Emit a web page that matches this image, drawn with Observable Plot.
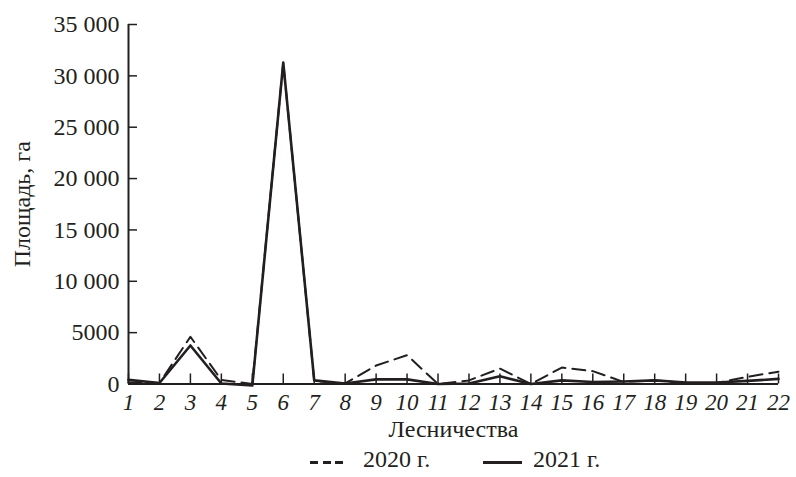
<!DOCTYPE html>
<html>
<head>
<meta charset="utf-8">
<script src="https://cdn.jsdelivr.net/npm/d3@7"></script>
<script src="https://cdn.jsdelivr.net/npm/@observablehq/plot@0.6"></script>
<style>
  html, body { margin: 0; padding: 0; background: #fff; }
  #wrap { width: 796px; font-family: "Liberation Serif", "Times New Roman", serif; color: #231f20; }
  #legend { position: relative; width: 796px; height: 29px; font-size: 24px; line-height: 24px; }
  #legend span { position: absolute; white-space: nowrap; }
</style>
</head>
<body>
<div id="wrap"><div id="chart"></div>
<div id="legend">
  <span id="dash1"></span><span id="t1"></span>
  <span id="solid2"></span><span id="t2"></span>
</div>
</div>
<script>
// ---- data ----
const forestries = [1,2,3,4,5,6,7,8,9,10,11,12,13,14,15,16,17,18,19,20,21,22];
const area2020 = [150, 100, 4600, 400, 0, 31300, 300, 50, 1800, 2800, 0, 350, 1500, 0, 1600, 1250, 200, 350, 100, 100, 700, 1200];
const area2021 = [400, 100, 3750, 50, -150, 31300, 350, 50, 450, 450, 0, 50, 750, 0, 350, 200, 250, 350, 150, 150, 300, 500];
const yTicks = [0, 5000, 10000, 15000, 20000, 25000, 30000, 35000];
const seriesNames = ["2020 г.", "2021 г."];
const xLabel = "Лесничества";
const yLabel = "Площадь, га";

const ink = "#231f20";
const W = 796, H = 448;
const mL = 128, mR = 18, mT = 24, mB = 64.5;
const frameW = W - mL - mR, frameH = H - mT - mB;

const rows2020 = forestries.map((f, i) => ({f, v: area2020[i]}));
const rows2021 = forestries.map((f, i) => ({f, v: area2021[i]}));
const fmt = d => d >= 10000 ? d3.format(",")(d).replace(/,/g, " ") : String(d);

const chart = Plot.plot({
  width: W, height: H,
  marginLeft: mL, marginRight: mR, marginTop: mT, marginBottom: mB,
  style: {fontFamily: "'Liberation Serif', 'Times New Roman', serif", fontSize: "24px", color: ink, background: "#fff"},
  x: {type: "linear", domain: [1, 22]},
  y: {domain: [0, 35000]},
  marks: [
    Plot.axisY({ticks: yTicks, tickSize: 0, tickPadding: 9, tickFormat: fmt, fontSize: 24, label: null}),
    Plot.axisX({ticks: forestries, tickSize: 0, tickPadding: 10, tickFormat: d => String(d), fontSize: 23, fontStyle: "italic", label: null}),
    // inward ticks
    Plot.ruleY(yTicks, {y: d => d, stroke: ink, strokeWidth: 1.5, insetRight: frameW - 9}),
    Plot.ruleX(forestries, {x: d => d, stroke: ink, strokeWidth: 1.5, insetTop: frameH - 10}),
    // axis lines
    Plot.ruleX([1], {stroke: ink, strokeWidth: 2}),
    Plot.ruleY([0], {stroke: ink, strokeWidth: 2}),
    // series
    Plot.line(rows2020, {x: "f", y: "v", stroke: ink, strokeWidth: 2, strokeDasharray: "13,7"}),
    Plot.line(rows2021, {x: "f", y: "v", stroke: ink, strokeWidth: 2.6}),
    // axis titles
    Plot.text([xLabel], {text: d => d, frameAnchor: "bottom", dy: 53, fontSize: 24, fill: ink}),
    Plot.text([yLabel], {text: d => d, frameAnchor: "left", textAnchor: "middle", dx: -106, rotate: -90, fontSize: 24, fill: ink})
  ]
});
document.getElementById("chart").appendChild(chart);

// legend
const d1 = document.getElementById("dash1");
Object.assign(d1.style, {left: "310px", top: "13px", width: "34px", height: "2.5px",
  background: `repeating-linear-gradient(to right, ${ink} 0 8px, transparent 8px 12.5px)`});
const t1 = document.getElementById("t1");
t1.textContent = seriesNames[0];
Object.assign(t1.style, {left: "363px", top: "-1px"});
const s2 = document.getElementById("solid2");
Object.assign(s2.style, {left: "483px", top: "12.5px", width: "39px", height: "3px", background: ink});
const t2 = document.getElementById("t2");
t2.textContent = seriesNames[1];
Object.assign(t2.style, {left: "533px", top: "-1px"});
</script>
</body>
</html>
